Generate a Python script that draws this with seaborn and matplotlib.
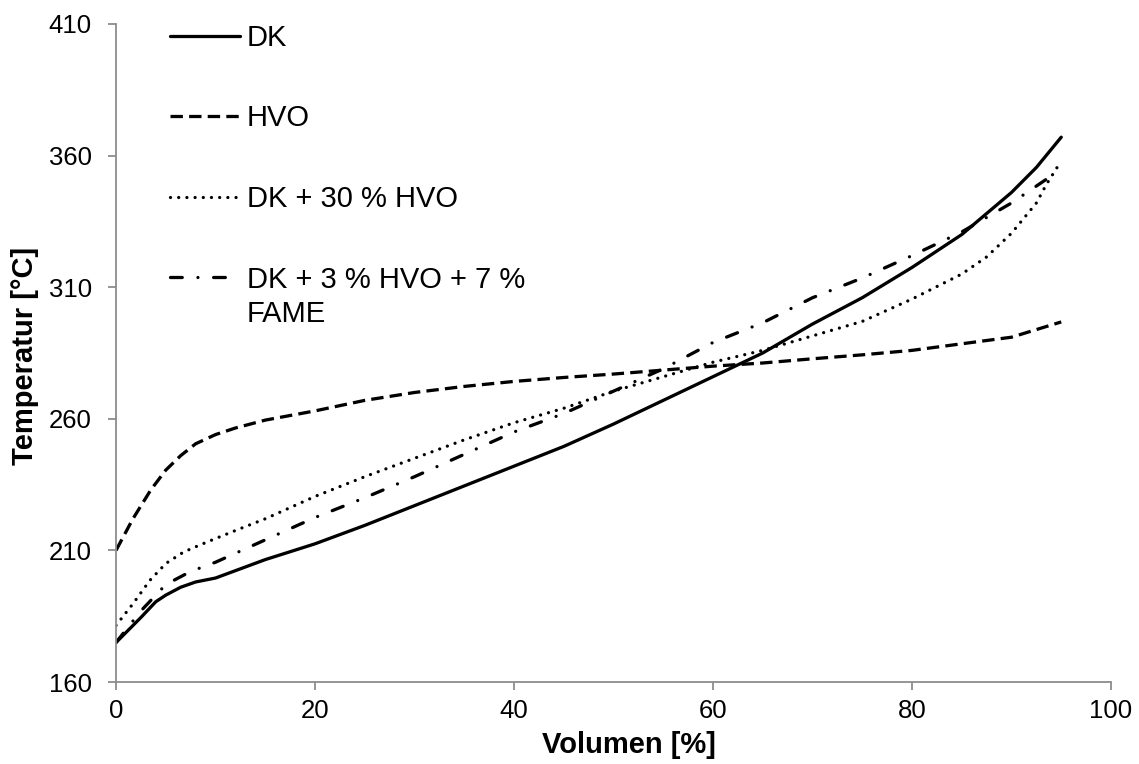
import matplotlib
matplotlib.use("Agg")
import matplotlib.pyplot as plt
import seaborn as sns
from matplotlib.offsetbox import TextArea

# ---- data ----
dk_x = [0, 2.5, 4, 5, 6.5, 8, 10, 12.5, 15, 20, 25, 30, 35, 40, 45, 50, 55, 60, 65, 70, 75, 80, 85,
        90, 92.5, 95]
dk_y = [175, 184.5, 190.5, 193, 196, 198, 199.5, 203, 206.5, 212.5, 219.5, 227, 234.5, 242, 249.5,
        258, 267, 276, 285, 296, 306, 317.5, 330, 346, 355.5, 367]

hvo_x = [0, 1.7, 3.5, 5, 6.5, 8, 10, 12, 15, 20, 25, 30, 35, 40, 45, 50, 55, 60, 65, 70, 75, 80, 85,
         90, 95]
hvo_y = [210, 222, 233, 240.5, 246, 250.5, 254, 256.5, 259.5, 263, 267, 270, 272.3, 274.2, 275.7,
         277, 278.5, 280, 281.2, 282.8, 284.3, 286, 288.5, 291, 296.8]

dk30_x = [0, 1.7, 3.4, 5, 6.8, 8.4, 10, 12.5, 15, 20, 25, 30, 35, 40, 45, 50, 55, 60, 65, 70, 75, 80,
          85, 87.5, 90, 92.5, 93.5, 95]
dk30_y = [181.5, 189.7, 198.6, 205, 209.4, 212, 214.5, 218.3, 222, 230.5, 238, 245, 252, 258.5, 264,
          270.5, 276, 281.5, 286, 291.5, 297, 305.5, 315, 321.5, 330.5, 342, 349, 358]

fame_x = [0, 2.5, 5, 7.5, 10, 15, 20, 25, 30, 35, 40, 45, 50, 55, 60, 65, 70, 75, 80, 85, 90, 93.5]
fame_y = [175, 187, 197, 202, 205.5, 214, 222.5, 230, 238, 246.5, 255, 262, 270.5, 279, 289,
          296.5, 306, 313.5, 322, 331, 342, 351]

labels = ["DK", "HVO", "DK + 30 % HVO", "DK + 3 % HVO + 7 %\nFAME"]
x_ticks = [0, 20, 40, 60, 80, 100]
y_ticks = [160, 210, 260, 310, 360, 410]

sns.set_theme(style="white")
plt.rcParams["font.family"] = ["Liberation Sans", "DejaVu Sans"]
plt.rcParams["text.color"] = "black"
plt.rcParams["axes.labelcolor"] = "black"

fig = plt.figure(figsize=(11.39, 7.64), dpi=100)
ax = fig.add_axes([116 / 1139, 1 - 682 / 764, 995 / 1139, 658 / 764])

lw = 2.35
sns.lineplot(x=dk_x, y=dk_y, ax=ax, color="black", lw=lw, label=labels[0],
             sort=False, estimator=None)
sns.lineplot(x=hvo_x, y=hvo_y, ax=ax, color="black", lw=lw, label=labels[1],
             sort=False, estimator=None, linestyle=(0, (3.8, 1.9)))
sns.lineplot(x=dk30_x, y=dk30_y, ax=ax, color="black", lw=lw, label=labels[2],
             sort=False, estimator=None, linestyle=(0, (0.01, 2.5)))
sns.lineplot(x=fame_x, y=fame_y, ax=ax, color="black", lw=lw, label=labels[3],
             sort=False, estimator=None, linestyle=(0, (3.6, 4.8, 0.01, 4.8)))

lines = ax.get_lines()
lines[0].set_solid_joinstyle("round")
lines[1].set_dash_capstyle("butt")
lines[2].set_dash_capstyle("round")
lines[3].set_dash_capstyle("round")

ax.set_xlim(0, 100)
ax.set_ylim(160, 410)
ax.set_xticks(x_ticks)
ax.set_yticks(y_ticks)

for s in ["top", "right"]:
    ax.spines[s].set_visible(False)
for s in ["left", "bottom"]:
    ax.spines[s].set_color("#8c8c8c")
    ax.spines[s].set_linewidth(1.3)

ax.tick_params(axis="both", direction="out", length=5.5, width=1.3, color="#8c8c8c",
               labelsize=18.5, labelcolor="black")
ax.tick_params(axis="y", pad=12, left=True)
ax.tick_params(axis="x", pad=7, bottom=True)

ax.set_xlabel("Volumen [%]", fontsize=21, fontweight="bold")
ax.set_ylabel("Temperatur [°C]", fontsize=21, fontweight="bold")
ax.xaxis.set_label_coords(0.516, -0.074)
ax.yaxis.set_label_coords(-0.077, 0.496)

leg_fs = 21
leg = ax.legend(loc="upper left", bbox_to_anchor=(170 / 1139, 1 - 24 / 764),
                bbox_transform=fig.transFigure, frameon=False, fontsize=leg_fs,
                handlelength=2.4, handletextpad=0.24, labelspacing=1.8,
                borderpad=0, borderaxespad=0)

line_gap = 1.3
leg.get_texts()[3].set_linespacing(line_gap)


def _fix_multiline(box):
    for child in box.get_children():
        if isinstance(child, TextArea):
            child._multilinebaseline = False
        else:
            _fix_multiline(child)


_fix_multiline(leg._legend_handle_box)

# align the handle of the two-line entry with its first line (as in the reference)
h = leg.legend_handles[3]
yd = h.get_ydata()
h.set_ydata([v + 25.0 for v in yd])

fig.savefig("out.png", dpi=100, facecolor="white")
